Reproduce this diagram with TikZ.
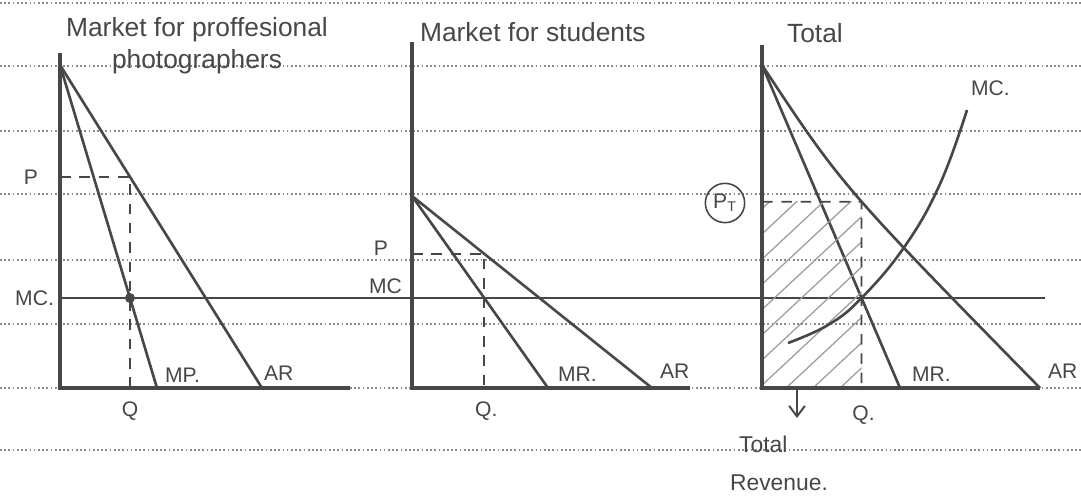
\documentclass[tikz,border=0pt]{standalone}
\usepackage{fontspec}
\setmainfont{Liberation Sans}
\usetikzlibrary{arrows.meta,intersections,calc}
\definecolor{inkc}{HTML}{474747}
\definecolor{rulec}{HTML}{8A8A8A}
\definecolor{hatchc}{HTML}{9A9A9A}
\begin{document}
\begin{tikzpicture}[x=0.02cm,y=-0.02cm,
  curve/.style={draw=inkc,line width=1.5pt},
  axis/.style={draw=inkc,line width=1.8pt},
  guide/.style={draw=inkc,line width=1pt,dash pattern=on 6pt off 5pt},
  ruled/.style={draw=rulec,line width=0.7pt,dash pattern=on 1pt off 1.4pt},
  lbl/.style={text=inkc,font=\fontsize{12}{14}\selectfont,inner sep=1pt},
  ttl/.style={text=inkc,font=\fontsize{15}{16}\selectfont,inner sep=1pt,align=center}]
\useasboundingbox (0,0) rectangle (1081,502);
% ruled notebook lines
\foreach \yy in {3,66,131,194,260,324,388,450}
  \draw[ruled] (0,\yy) -- (1081,\yy);

% ---------- common MC line ----------
\coordinate (mcL) at (60,298);
\coordinate (mcR) at (1045,298);
\draw[curve,name path=mcline] (mcL) -- (mcR);

% ---------- Panel 1 ----------
\coordinate (o1) at (60,388);
\coordinate (t1) at (60,53);
\coordinate (x1) at (350,388);
\coordinate (a1) at (60,65);
\coordinate (mr1) at (157,388);
\coordinate (ar1) at (262,388);
\draw[axis] (t1) -- (o1) -- (x1);
\draw[curve,name path=mrA] (a1) -- (mr1);
\draw[curve,name path=arA] (a1) -- (ar1);
\path[name intersections={of=mrA and mcline,by=e1}];
\path[name path=vA] (e1 |- 0,40) -- (e1 |- 0,395);
\path[name intersections={of=vA and arA,by=p1}];
\coordinate (q1) at (e1 |- o1);
\draw[guide] (p1 -| o1) -- (p1) -- ($(q1)+(0,4)$);
\fill[inkc] (e1) circle (5);
\node[ttl] (title1) at (197,46) {Market for proffesional\\[2pt]photographers};
\node[lbl,anchor=east] (P1) at ($(p1 -| o1)+(-20,0)$) {P};
\node[lbl,anchor=east] (MC1) at ($(mcL)+(-4,0)$) {MC.};
\node[lbl,anchor=north] (Q1) at ($(q1)+(0,12)$) {Q};
\node[lbl,anchor=south west] (MR1) at ($(mr1)+(6,-3)$) {MP.};
\node[lbl,anchor=south west] (AR1) at ($(ar1)+(0,-5)$) {AR};

% ---------- Panel 2 ----------
\coordinate (o2) at (412,388);
\coordinate (t2) at (412,42);
\coordinate (x2) at (690,388);
\coordinate (a2) at (412,196);
\coordinate (mr2) at (548,388);
\coordinate (ar2) at (652,388);
\draw[axis] (t2) -- (o2) -- (x2);
\draw[curve,name path=mrB] (a2) -- (mr2);
\draw[curve,name path=arB] (a2) -- (ar2);
\path[name intersections={of=mrB and mcline,by=e2}];
\path[name path=vB] (e2 |- 0,40) -- (e2 |- 0,395);
\path[name intersections={of=vB and arB,by=p2}];
\coordinate (q2) at (e2 |- o2);
\draw[guide] (p2 -| o2) -- (p2) -- ($(q2)+(0,6)$);
\node[ttl,anchor=west] (title2) at (418,32) {Market for students};
\node[lbl,anchor=east] (P2) at ($(p2 -| o2)+(-22,-6)$) {P};
\node[lbl,anchor=south east] (MC2) at ($(o2 |- mcL)+(-8,-2)$) {MC};
\node[lbl,anchor=north] (Q2) at ($(q2)+(2,12)$) {Q.};
\node[lbl,anchor=south west] (MR2) at ($(mr2)+(8,-4)$) {MR.};
\node[lbl,anchor=south west] (AR2) at ($(ar2)+(6,-7)$) {AR};

% ---------- Panel 3 ----------
\coordinate (o3) at (762,388);
\coordinate (t3) at (762,45);
\coordinate (x3) at (1040,388);
\coordinate (a3) at (762,65);
\coordinate (mr3) at (900,388);
\coordinate (ar3) at (1040,388);
\draw[curve,name path=mrC] (a3) -- (mr3);
\draw[curve,name path=arC] (a3) .. controls (842,186) .. (ar3);
\path[name intersections={of=mrC and mcline,by=e3}];
\path[name path=vC] (e3 |- 0,40) -- (e3 |- 0,395);
\path[name intersections={of=vC and arC,by=pt}];
\coordinate (q3) at (e3 |- o3);
% hatched total revenue area
\begin{scope}
  \clip (pt -| o3) rectangle (q3);
  \foreach \i in {-300,-273,...,120}
    \draw[hatchc,line width=0.7pt] (762+\i,388) -- (1062+\i,108);
\end{scope}
\draw[axis] (t3) -- (o3) -- (x3);
\coordinate (mcbot) at (788,343);
\coordinate (mctop) at (967,110);
\draw[curve] plot[smooth,tension=0.7] coordinates {(mcbot) (828,325) (e3) (905,246) (940,184) (mctop)};
\draw[guide] (pt -| o3) -- (pt) -- ($(q3)+(0,4)$);
\node[ttl,anchor=west] (title3) at (785,33) {Total};
\node[lbl,draw=inkc,circle,line width=0.9pt,inner sep=2pt] (PT) at (725,203) {P\textsubscript{T}};
\node[lbl,anchor=south west] (MC3) at ($(mctop)+(2,-12)$) {MC.};
\node[lbl,anchor=south west] (MR3) at ($(mr3)+(10,-4)$) {MR.};
\node[lbl,anchor=south west] (AR3) at ($(ar3)+(6,-7)$) {AR};
\node[lbl,anchor=north] (Q3) at ($(q3)+(2,16)$) {Q.};
\coordinate (arrs) at (797,390);
\node[lbl,anchor=west,font=\fontsize{13}{15}\selectfont] (TR1) at (737,444) {Total};
\node[lbl,anchor=west,font=\fontsize{13}{15}\selectfont] (TR2) at (728,483) {Revenue.};
\draw[draw=inkc,line width=1.1pt,-{Straight Barb[length=6pt,width=9pt]}] (arrs) -- (797,418);
\end{tikzpicture}
\end{document}
